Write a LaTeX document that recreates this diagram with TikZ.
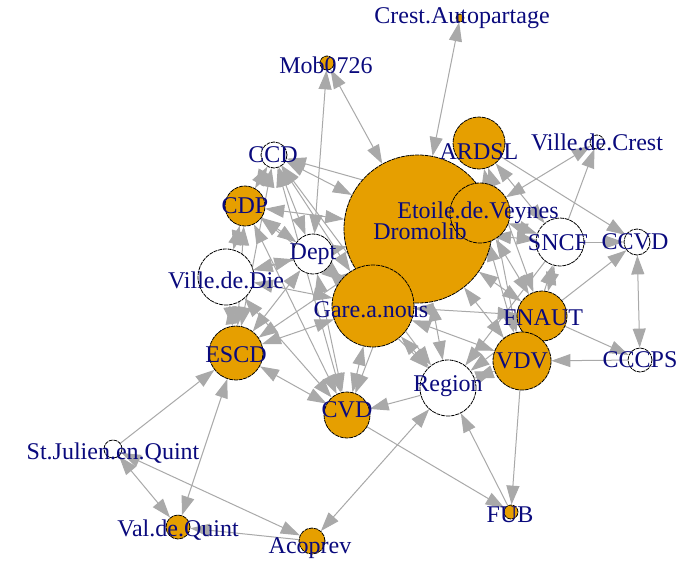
\documentclass[tikz,border=0pt]{standalone}
\usepackage{fontspec}
\setmainfont{Liberation Serif}
\usetikzlibrary{arrows.meta}
\usepackage{xcolor}
\definecolor{vorange}{RGB}{230,159,0}
\definecolor{edgegray}{RGB}{169,169,169}
\definecolor{labblue}{RGB}{10,10,125}
\pgfdeclarelayer{edges}
\pgfsetlayers{edges,main}

\begin{document}
\begin{tikzpicture}[x=1pt,y=-1pt,
				vertex/.style={draw=black,circle,inner sep=0pt,line width=0.8pt,dash pattern=on 4pt off 0.8pt},
				org/.style={vertex,fill=vorange},
				wht/.style={vertex,fill=white},
				lab/.style={text=labblue,inner sep=0pt,font=\fontsize{24}{24}\selectfont},
				edge/.style={draw=edgegray,line width=1pt,-{Triangle[length=19pt,width=13pt]}},
				both/.style={edge,{Triangle[length=19pt,width=13pt]}-{Triangle[length=19pt,width=13pt]}}
				]
				\useasboundingbox (0,0) rectangle (685,560);
				
				% vertices
				\node[org,minimum size=148pt] (dromolib) at (418,229) {};
				\node[org,minimum size=8pt] (crest) at (460,18) {};
				\node[org,minimum size=14pt] (mob) at (327,63) {};
				\node[wht,minimum size=26pt] (ccd) at (274,155) {};
				\node[org,minimum size=52pt] (ardsl) at (479,143) {};
				\node[wht,minimum size=14pt] (villecrest) at (597,142) {};
				\node[org,minimum size=40pt] (cdp) at (245,206) {};
				\node[org,minimum size=60pt] (etoile) at (480,213) {};
				\node[wht,minimum size=40pt] (dept) at (313,254) {};
				\node[wht,minimum size=56pt] (villedie) at (226,277) {};
				\node[org,minimum size=82pt] (gare) at (373,306) {};
				\node[wht,minimum size=48pt] (sncf) at (560,242) {};
				\node[wht,minimum size=26pt] (ccvd) at (637,242) {};
				\node[org,minimum size=50pt] (fnaut) at (542,316) {};
				\node[org,minimum size=58pt] (vdv) at (522,361) {};
				\node[wht,minimum size=24pt] (cccps) at (640,360) {};
				\node[org,minimum size=54pt] (escd) at (236,353) {};
				\node[wht,minimum size=56pt] (region) at (448,388) {};
				\node[org,minimum size=46pt] (cvd) at (347,415) {};
				\node[wht,minimum size=18pt] (stjulien) at (113,449) {};
				\node[org,minimum size=24pt] (valquint) at (178,527) {};
				\node[org,minimum size=26pt] (acoprev) at (312,541) {};
				\node[org,minimum size=14pt] (fub) at (511,512) {};
				
				% labels
				\node[lab] (dromolibtxt) at (420,231) {Dromolib};
				\node[lab] (cresttxt) at (462,18) {Crest.Autopartage};
				\node[lab] (mobtxt) at (326,65) {Mob0726};
				\node[lab] (ccdtxt) at (273,155) {CCD};
				\node[lab] (ardsltxt) at (479,152) {ARDSL};
				\node[lab] (villecresttxt) at (597,142) {Ville.de.Crest};
				\node[lab] (cdptxt) at (245,206) {CDP};
				\node[lab] (etoiletxt) at (478,213) {Etoile.de.Veynes};
				\node[lab] (depttxt) at (313,254) {Dept};
				\node[lab] (villedietxt) at (226,280) {Ville.de.Die};
				\node[lab] (garetxt) at (371,310) {Gare.a.nous};
				\node[lab] (sncftxt) at (558,243) {SNCF};
				\node[lab] (ccvdtxt) at (635,242) {CCVD};
				\node[lab] (fnauttxt) at (543,318) {FNAUT};
				\node[lab] (vdvtxt) at (522,361) {VDV};
				\node[lab] (cccpstxt) at (640,360) {CCCPS};
				\node[lab] (escdtxt) at (236,355) {ESCD};
				\node[lab] (regiontxt) at (448,386) {Region};
				\node[lab] (cvdtxt) at (347,410) {CVD};
				\node[lab] (stjulientxt) at (113,453) {St.Julien.en.Quint};
				\node[lab] (valquinttxt) at (178,530) {Val.de.Quint};
				\node[lab] (acoprevtxt) at (310,548) {Acoprev};
				\node[lab] (fubtxt) at (510,515) {FUB};
				
				% connectors
				\begin{pgfonlayer}{edges}
				\fill[white] (0,0) rectangle (685,560);
				\draw[both] (crest) -- (dromolib);
				\draw[both] (mob) -- (dromolib);
				\draw[both] (mob) -- (dept);
				\draw[both] (ccd) -- (cdp);
				\draw[both] (ccd) -- (dromolib);
				\draw[both] (ccd) -- (etoile);
				\draw[both] (ccd) -- (dept);
				\draw[both] (ccd) -- (gare);
				\draw[both] (ccd) -- (cvd);
				\draw[both] (ccd) -- (escd);
				\draw[both] (ccd) -- (region);
				\draw[both] (cdp) -- (dromolib);
				\draw[both] (cdp) -- (dept);
				\draw[both] (cdp) -- (villedie);
				\draw[both] (cdp) -- (gare);
				\draw[both] (cdp) -- (escd);
				\draw[both] (cdp) -- (cvd);
				\draw[both] (villedie) -- (dept);
				\draw[both] (villedie) -- (dromolib);
				\draw[both] (villedie) -- (gare);
				\draw[both] (villedie) -- (escd);
				\draw[both] (villedie) -- (cvd);
				\draw[both] (escd) -- (dept);
				\draw[both] (escd) -- (gare);
				\draw[both] (escd) -- (dromolib);
				\draw[both] (escd) -- (cvd);
				\draw[both] (escd) -- (valquint);
				\draw[both] (dept) -- (dromolib);
				\draw[both] (dept) -- (gare);
				\draw[both] (dept) -- (cvd);
				\draw[both] (dept) -- (region);
				\draw[both] (gare) -- (cvd);
				\draw[both] (gare) -- (region);
				\draw[both] (gare) -- (fnaut);
				\draw[both] (gare) -- (vdv);
				\draw[both] (dromolib) -- (sncf);
				\draw[both] (dromolib) -- (fnaut);
				\draw[both] (dromolib) -- (vdv);
				\draw[both] (dromolib) -- (region);
				\draw[both] (dromolib) -- (cvd);
				\draw[both] (etoile) -- (sncf);
				\draw[both] (etoile) -- (fnaut);
				\draw[both] (etoile) -- (vdv);
				\draw[both] (etoile) -- (villecrest);
				\draw[both] (ardsl) -- (sncf);
				\draw[both] (ardsl) -- (fnaut);
				\draw[both] (ardsl) -- (vdv);
				\draw[both] (sncf) -- (fnaut);
				\draw[both] (sncf) -- (vdv);
				\draw[both] (fnaut) -- (region);
				\draw[both] (vdv) -- (region);
				\draw[both] (ccvd) -- (cccps);
				\draw[both] (region) -- (acoprev);
				\draw[both] (stjulien) -- (valquint);
				\draw[both] (stjulien) -- (acoprev);
				\draw[edge] (sncf) -- (villecrest);
				\draw[edge] (sncf) -- (ccvd);
				\draw[edge] (fnaut) -- (ccvd);
				\draw[edge] (ardsl) -- (ccvd);
				\draw[edge] (fnaut) -- (cccps);
				\draw[edge] (cccps) -- (vdv);
				\draw[edge] (vdv) -- (fub);
				\draw[edge] (fub) -- (region);
				\draw[edge] (cvd) -- (fub);
				\draw[edge] (region) -- (cvd);
				\draw[edge] (acoprev) -- (valquint);
				\draw[edge] (stjulien) -- (escd);
				\draw[edge] (sncf) -- (region);
				\end{pgfonlayer}
				
			\end{tikzpicture}
\end{document}
